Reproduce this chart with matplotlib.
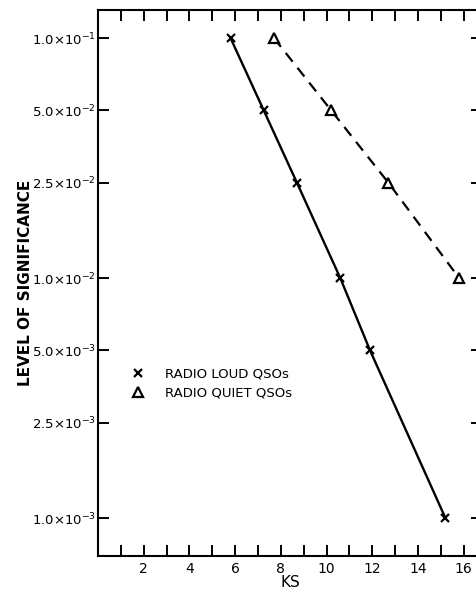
import numpy as np
import matplotlib
matplotlib.use("Agg")
import matplotlib.pyplot as plt
from matplotlib.ticker import FixedLocator, MultipleLocator

# values
loud_ks = [5.8, 7.25, 8.7, 10.6, 11.9, 15.2]
loud_sig = [1.0e-1, 5.0e-2, 2.5e-2, 1.0e-2, 5.0e-3, 1.0e-3]
quiet_ks = [7.7, 10.2, 12.7, 15.8]
quiet_sig = [1.0e-1, 5.0e-2, 2.5e-2, 1.0e-2]

ytick_vals = [1.0e-1, 5.0e-2, 2.5e-2, 1.0e-2, 5.0e-3, 2.5e-3, 1.0e-3]
ytick_labels = [r"1.0$\times$10$^{-1}$", r"5.0$\times$10$^{-2}$", r"2.5$\times$10$^{-2}$",
                r"1.0$\times$10$^{-2}$", r"5.0$\times$10$^{-3}$", r"2.5$\times$10$^{-3}$",
                r"1.0$\times$10$^{-3}$"]
xtick_vals = [2, 4, 6, 8, 10, 12, 14, 16]

plt.rcParams["font.family"] = ["DejaVu Sans"]
plt.rcParams["mathtext.fontset"] = "dejavusans"

fig = plt.figure(figsize=(4.77, 5.93), dpi=100)
ax = fig.add_axes([0.2055, 0.0624, 0.805, 0.9206])

ax.plot(loud_ks, loud_sig, color="black", lw=1.7, ls="-", marker="x",
        ms=5.5, mew=1.6, label="RADIO LOUD QSOs")
ax.plot(quiet_ks, quiet_sig, color="black", lw=1.6, ls=(0, (5, 3.5)), marker="^",
        ms=7, mfc="white", mew=1.6, label="RADIO QUIET QSOs")

ax.set_yscale("log")
ax.set_xlim(0, 16.8)
ax.set_ylim(6.95e-4, 0.1309)

ax.yaxis.set_major_locator(FixedLocator(ytick_vals))
ax.yaxis.set_minor_locator(FixedLocator([]))
ax.set_yticklabels(ytick_labels, fontsize=9.5)
ax.set_xticks(xtick_vals)
ax.set_xticklabels([str(v) for v in xtick_vals], fontsize=10)
ax.xaxis.set_minor_locator(MultipleLocator(1))

ax.tick_params(which="both", direction="in", top=True, right=True, width=1.4)
ax.tick_params(which="major", length=8)
ax.tick_params(which="minor", length=8)
ax.tick_params(axis="y", pad=1.5)
ax.tick_params(axis="x", pad=4)

for s in ax.spines.values():
    s.set_linewidth(1.5)

ax.set_xlabel("KS", fontsize=11)
ax.xaxis.set_label_coords(0.5, -0.035)
ax.set_ylabel("LEVEL OF SIGNIFICANCE", fontsize=11, fontweight="semibold")
ax.yaxis.set_label_coords(-0.17, 0.5)

leg = ax.legend(loc="upper left", bbox_to_anchor=(0.105, 0.345), frameon=False,
                borderaxespad=0, borderpad=0, fontsize=9.5, handlelength=0,
                handletextpad=2.0, labelspacing=0.45)
for h in leg.legend_handles:
    h.set_linestyle("none")

fig.savefig("out.png", dpi=100)
